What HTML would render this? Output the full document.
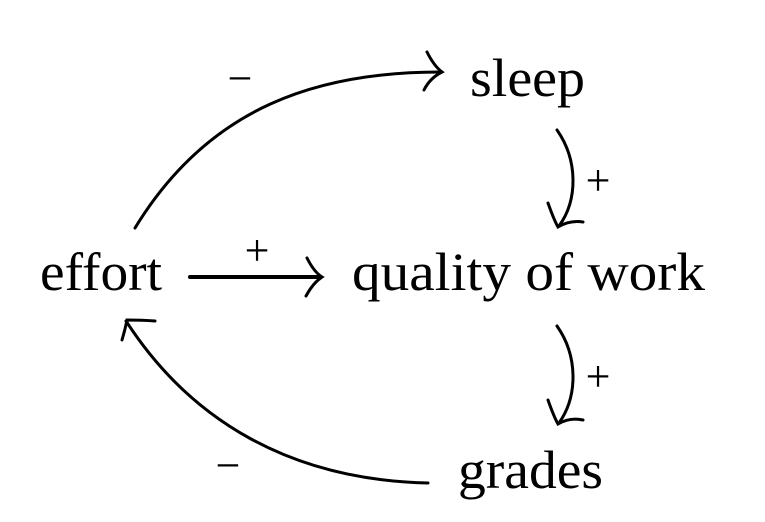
<!DOCTYPE html>
<html><head><style>
body{margin:0;background:#fff;}
svg{display:block;}
text{font-family:"Liberation Serif",serif;fill:#000;}
</style></head><body>
<svg width="765" height="522" viewBox="0 0 765 522" xmlns="http://www.w3.org/2000/svg">
<g fill="none" stroke="#000" stroke-width="3" stroke-linecap="round">
<path d="M135,228 C210,105 320,72 440,72"/>
<path d="M427,52 Q434,66 442,72 Q430,78 424,90"/>
<path d="M190,277 L320,277" stroke-width="4"/>
<path d="M307,258 Q314,272 322,277 Q313,283 306,296"/>
<path d="M557,130 C578,160 578,200 559,226"/>
<path d="M548,203 Q554,220 558,227 Q570,220 583,222"/>
<path d="M557,326 C578,356 578,396 559,423"/>
<path d="M548,400 Q554,417 558,424 Q570,417 583,420"/>
<path d="M428,483 C290,480 190,420 126,321"/>
<path d="M122,340 Q125,330 127,320 Q142,320 155,321"/>
</g>
<text x="470" y="96" font-size="54" textLength="115" lengthAdjust="spacingAndGlyphs">sleep</text>
<text x="40" y="290" font-size="54" textLength="122" lengthAdjust="spacingAndGlyphs">effort</text>
<text x="352" y="290" font-size="54" textLength="353" lengthAdjust="spacingAndGlyphs">quality of work</text>
<text x="458" y="488" font-size="54" textLength="145" lengthAdjust="spacingAndGlyphs">grades</text>
<text x="240" y="93" font-size="44" text-anchor="middle">−</text>
<text x="257" y="265" font-size="44" text-anchor="middle">+</text>
<text x="598" y="195" font-size="44" text-anchor="middle">+</text>
<text x="598" y="391" font-size="44" text-anchor="middle">+</text>
<text x="228" y="480" font-size="44" text-anchor="middle">−</text>
</svg>
</body></html>
